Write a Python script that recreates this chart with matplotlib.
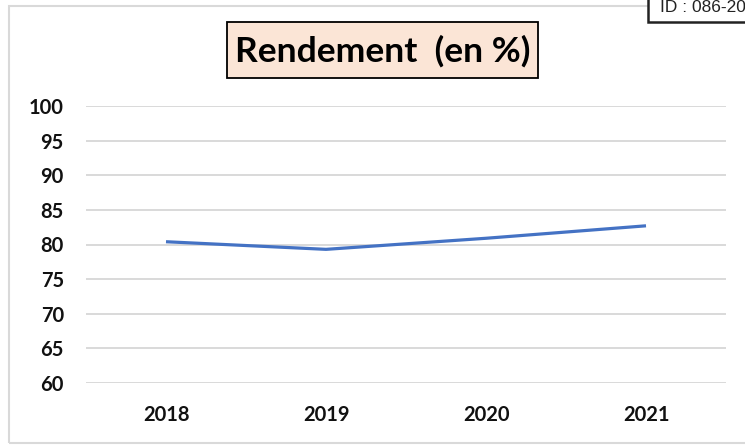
import matplotlib
matplotlib.use("Agg")
import matplotlib.pyplot as plt
from matplotlib.patches import Rectangle

years = ["2018", "2019", "2020", "2021"]
rendement = [80.4, 79.3, 80.9, 82.7]
yticks = [60, 65, 70, 75, 80, 85, 90, 95, 100]
title = "Rendement  (en %)"
id_text = "ID : 086-20"

W, H = 745, 445
fig = plt.figure(figsize=(W / 100, H / 100), dpi=100)
fig.patch.set_facecolor("white")

def fx(px):
    return px / W

def fy(py):
    return 1 - py / H

# outer chart border
fig.patches.append(Rectangle((fx(9), fy(443)), fx(760 - 9), fy(6) - fy(443),
                             transform=fig.transFigure, fill=False,
                             edgecolor="#D9D9D9", linewidth=1.5, zorder=0))

ax = fig.add_axes([fx(86), fy(383), fx(726 - 86), fy(106) - fy(383)])
x = list(range(len(years)))
ax.plot(x, rendement, color="#4472C4", linewidth=2.3, solid_capstyle="butt", zorder=3)
ax.set_xlim(-0.5, len(years) - 0.5)
ax.set_ylim(60, 100)
ax.set_yticks(yticks)
ax.set_xticks(x)
ax.set_xticklabels(years)
ax.grid(axis="y", color="#D9D9D9", linewidth=1.4)
ax.set_axisbelow(True)
for s in ax.spines.values():
    s.set_visible(False)
ax.tick_params(axis="both", length=0, labelsize=14.5, labelcolor="#111111")
ax.tick_params(axis="y", pad=16)
ax.tick_params(axis="x", pad=16)
for lab in ax.get_xticklabels() + ax.get_yticklabels():
    lab.set_fontfamily("Lato")
    lab.set_fontweight("bold")

# title box
fig.patches.append(Rectangle((fx(227), fy(78)), fx(538 - 227), fy(22) - fy(78),
                             transform=fig.transFigure, facecolor="#FBE5D6",
                             edgecolor="black", linewidth=1.3, zorder=2))
fig.text(fx(383), fy(51), title, ha="center", va="center", fontsize=25.5,
         fontweight="bold", fontfamily="Lato", color="black", zorder=3)

# ID box (clipped at the right edge)
fig.patches.append(Rectangle((fx(648), fy(22)), fx(800 - 648), fy(-10) - fy(22),
                             transform=fig.transFigure, facecolor="white",
                             edgecolor="#222222", linewidth=1.8, zorder=4))
fig.text(fx(660), fy(12.5), id_text, ha="left", va="baseline", fontsize=12.5,
         fontfamily="Liberation Sans", color="#222222", zorder=5)

fig.savefig("out.png", dpi=100)
